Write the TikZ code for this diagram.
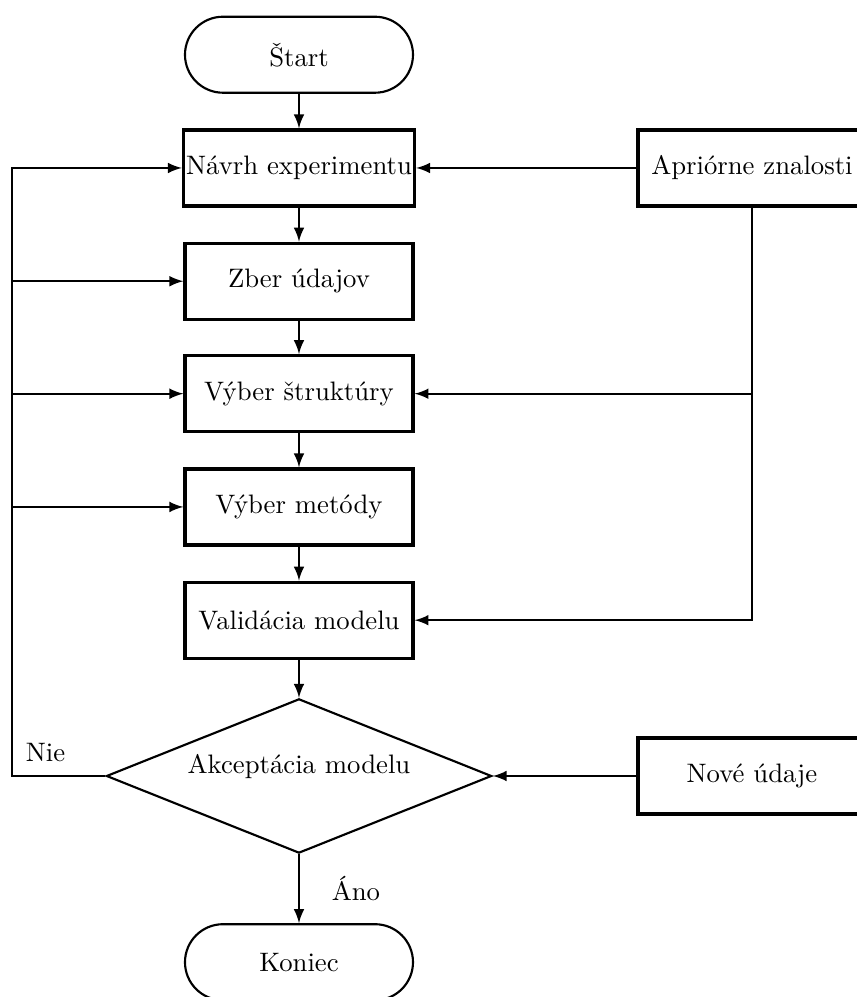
\documentclass[tikz,border=0pt]{standalone}
\usetikzlibrary{shapes.geometric}

\begin{document}
\begin{tikzpicture}[
		proc/.style={draw, very thick, rectangle, minimum width=3cm, minimum height=1cm, inner sep=1pt},
		term/.style={draw, thick, rectangle, rounded corners=0.5cm, minimum width=3cm, minimum height=1cm},
		decision/.style={draw, thick, diamond, aspect=2.5, inner sep=0pt, text depth=9pt, minimum width=5.07cm, minimum height=2.03cm},
		arr/.style={thick, -latex}
	]
			\useasboundingbox (-3.934,0) rectangle (7.329,-13.118);
			\node[term]     (start)      at (0,    -0.72)  {Štart};
			\node[proc]     (navrh)      at (0,    -2.21)  {Návrh experimentu};
			\node[proc]     (zber)       at (0,    -3.70)  {Zber údajov};
			\node[proc]     (struktura)  at (0,    -5.18)  {Výber štruktúry};
			\node[proc]     (metoda)     at (0,    -6.67)  {Výber metódy};
			\node[proc]     (validacia)  at (0,    -8.16)  {Validácia modelu};
			\node[decision] (akceptacia) at (0,    -10.21) {Akceptácia modelu};
			\node[term]     (koniec)     at (0,    -12.66) {Koniec};
			\node[proc]     (apriorne)   at (5.96, -2.21)  {Apriórne znalosti};
			\node[proc]     (nove)       at (5.96, -10.21) {Nové údaje};
			\coordinate (spat) at (-3.776, -10.21);

			% hlavna vetva
			\draw[arr] (start) -- (navrh);
			\draw[arr] (navrh) -- (zber);
			\draw[arr] (zber) -- (struktura);
			\draw[arr] (struktura) -- (metoda);
			\draw[arr] (metoda) -- (validacia);
			\draw[arr] (validacia) -- (akceptacia);
			\draw[arr] (akceptacia) -- node[right=0.3cm] {Áno} (koniec);

			% spatna vazba
			\draw[arr] (akceptacia.west) -- node[above=1.5pt, pos=0.64] {Nie} (spat) |- (navrh.west);
			\draw[arr] (spat |- zber) -- (zber.west);
			\draw[arr] (spat |- struktura) -- (struktura.west);
			\draw[arr] (spat |- metoda) -- (metoda.west);

			% apriorne znalosti a nove udaje
			\draw[arr] (apriorne) -- (navrh.east);
			\draw[arr] (apriorne.south) |- (validacia.east);
			\draw[arr] (apriorne.south |- struktura) -- (struktura.east);
			\draw[arr] (nove) -- (akceptacia.east);
		\end{tikzpicture}
\end{document}
